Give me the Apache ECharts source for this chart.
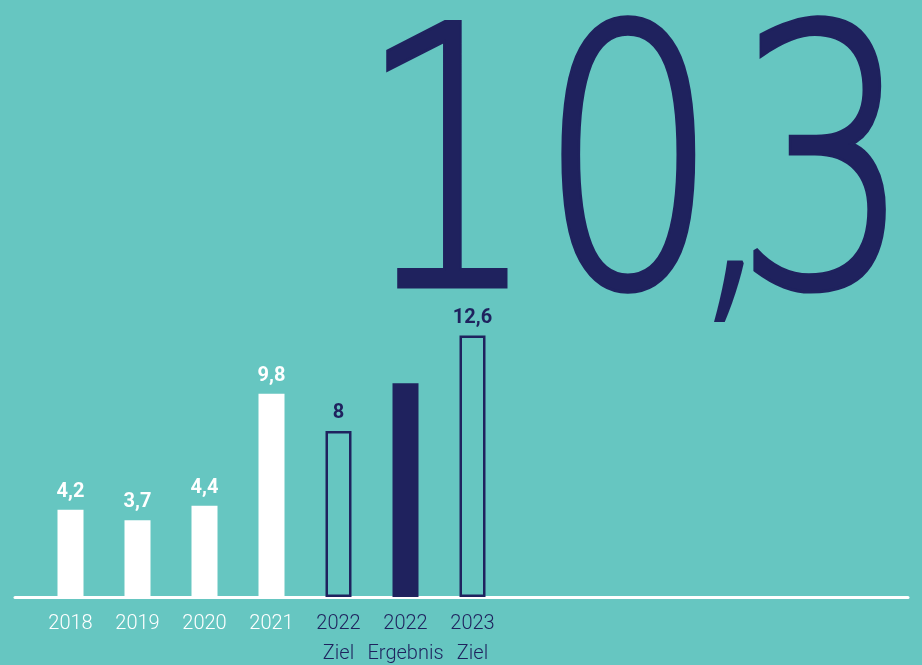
<!DOCTYPE html>
<html>
<head>
<meta charset="utf-8">
<script src="https://cdn.jsdelivr.net/npm/echarts@6/dist/echarts.min.js"></script>
<style>
  html, body { margin: 0; padding: 0; background: #66C6C1; }
  #chart { width: 922px; height: 665px; }
</style>
</head>
<body>
<div id="chart"></div>
<script>
// Years and bar groups
const categories = ['2018', '2019', '2020', '2021', '2022\nZiel', '2022\nErgebnis', '2023\nZiel'];
const values = [4.2, 3.7, 4.4, 9.8, 8, 10.3, 12.6];
// 'ist' = achieved (white), 'ziel' = target (outlined), 'ergebnis' = highlighted result
const kinds = ['ist', 'ist', 'ist', 'ist', 'ziel', 'ergebnis', 'ziel'];
const highlightIndex = 5;

const NAVY = '#1F225E';
const WHITE = '#FFFFFF';
const fmt = v => String(v).replace('.', ',');

const barData = values.map((v, i) => {
  const k = kinds[i];
  if (k === 'ist') {
    return { value: v, itemStyle: { color: WHITE }, label: { color: WHITE } };
  }
  if (k === 'ziel') {
    return {
      value: v,
      itemStyle: { color: 'rgba(0,0,0,0)', borderColor: NAVY, borderWidth: 2.5 },
      label: { color: NAVY }
    };
  }
  return { value: v, itemStyle: { color: NAVY }, label: { show: false } };
});

const axisCats = categories.map((c, i) => ({
  value: c,
  textStyle: { color: kinds[i] === 'ist' ? WHITE : NAVY }
}));

// Big headline number for the highlighted result, split at the decimal comma
const [intPart, decPart] = fmt(values[highlightIndex]).split(',');
const bigStyle = { fill: NAVY, stroke: NAVY, lineWidth: 6, font: '200 360px "DejaVu Sans"' };
const bigTop = 9;

const chart = echarts.init(document.getElementById('chart'), null, { renderer: 'canvas' });
chart.setOption({
  backgroundColor: '#66C6C1',
  animation: false,
  grid: [
    { left: 37, width: 469, top: 182, bottom: 68, outerBoundsMode: 'none', containLabel: false },
    { left: 15, right: 14, top: 182, bottom: 68, outerBoundsMode: 'none', containLabel: false }
  ],
  xAxis: [
    {
      type: 'category', gridIndex: 0, data: axisCats,
      axisLine: { show: false }, axisTick: { show: false },
      axisLabel: {
        fontFamily: 'Roboto', fontWeight: 300, fontSize: 20,
        lineHeight: 30, margin: 12, interval: 0
      }
    },
    {
      type: 'value', gridIndex: 1, min: 0, max: 1,
      axisLine: { show: true, lineStyle: { color: WHITE, width: 3 } },
      axisTick: { show: false }, axisLabel: { show: false }, splitLine: { show: false }
    }
  ],
  yAxis: [
    { type: 'value', gridIndex: 0, min: 0, max: 20, show: false },
    { type: 'value', gridIndex: 1, min: 0, max: 1, show: false }
  ],
  series: [{
    type: 'bar', xAxisIndex: 0, yAxisIndex: 0,
    barWidth: 26, data: barData, z: 1,
    label: {
      show: true, position: 'top', distance: 8,
      fontFamily: 'Roboto', fontWeight: 'bold', fontSize: 20,
      formatter: p => fmt(p.value)
    }
  }],
  graphic: [
    { type: 'text', left: 355, top: bigTop, scaleX: 0.79,
      style: Object.assign({ text: intPart }, bigStyle) },
    { type: 'text', left: 704, top: 94,
      style: { text: ',', fill: NAVY, font: '300 250px "Noto Sans"' } },
    { type: 'text', left: 732, top: bigTop, scaleX: 0.78,
      style: Object.assign({ text: decPart }, bigStyle) }
  ]
});
</script>
</body>
</html>
